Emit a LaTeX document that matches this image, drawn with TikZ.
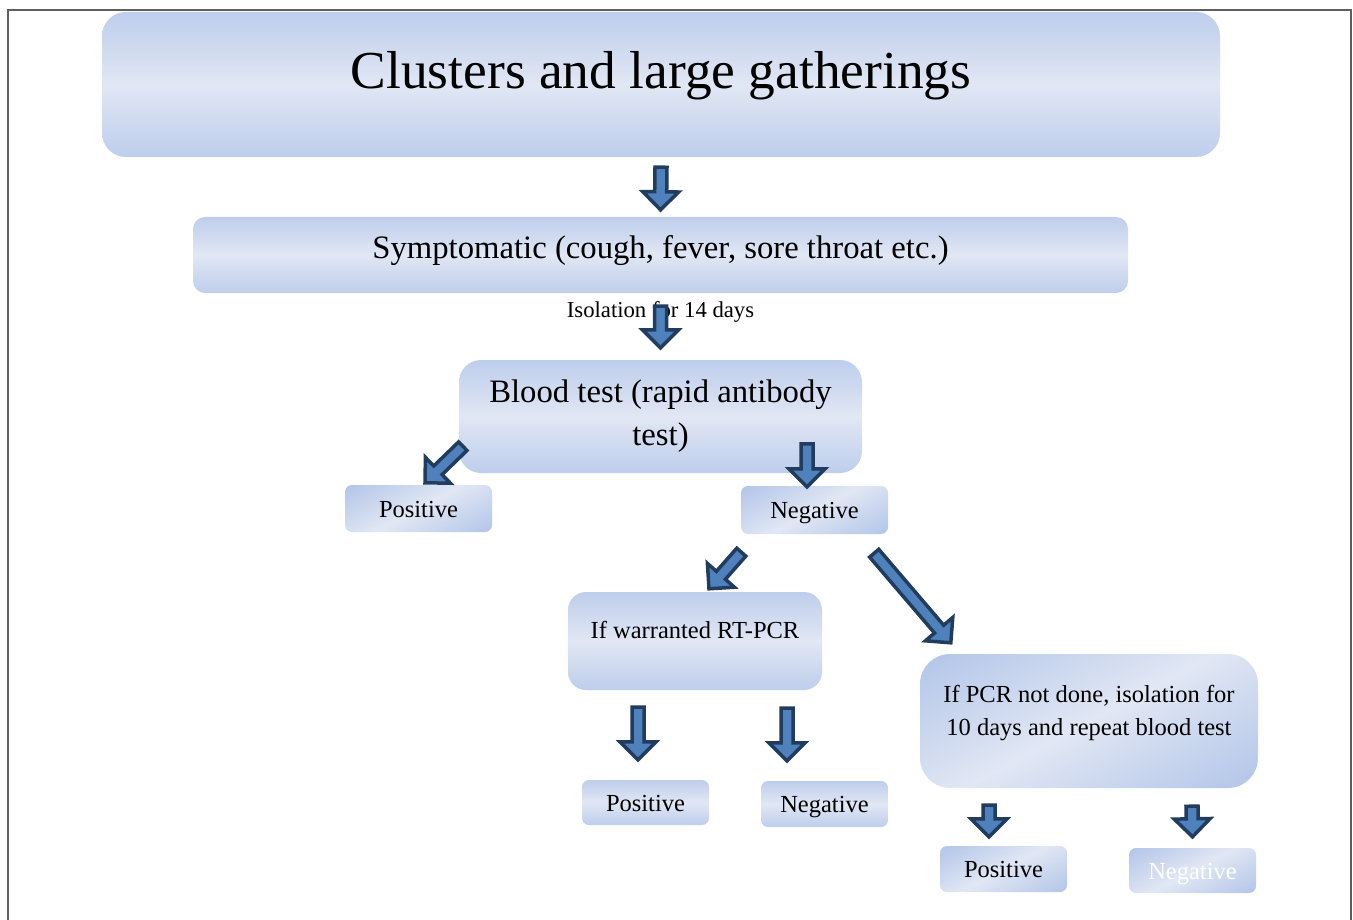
\documentclass[tikz,border=0pt]{standalone}
\usepackage{fontspec}
\setmainfont{Liberation Serif}
\usepackage{tikz}
\usetikzlibrary{calc,positioning}

\definecolor{bluedark}{RGB}{155,180,227}
\definecolor{bluelight}{RGB}{225,231,244}
\definecolor{arrowfill}{RGB}{79,129,189}
\definecolor{arrowline}{RGB}{34,60,94}
\definecolor{framegray}{RGB}{95,95,95}

\pgfdeclareverticalshading{glass}{100bp}{color(0bp)=(bluedark); color(50bp)=(bluelight); color(100bp)=(bluedark)}

\tikzset{
  box/.style={shade, shading=glass, rounded corners=#1, align=center, inner sep=0pt},
  box/.default=8pt,
  slant/.style={shading angle=28},
  small/.style={box=7pt, minimum width=127pt, minimum height=45pt,
    font=\fontsize{24.5}{30}\selectfont, text height=24pt, text depth=7pt},
  barrow/.style={fill=arrowfill, draw=arrowline, line width=3.5pt, line join=miter}
}

% block arrow from tail to tip
\newcommand\blockarrow[2]{%
  \coordinate (ba-t) at (#1);
  \coordinate (ba-h) at (#2);
  \coordinate (ba-n) at ($(ba-h)!18pt!(ba-t)$);
  \draw[barrow] ($(ba-t)!6pt!90:(ba-h)$) -- ($(ba-n)!6pt!-90:(ba-t)$)
    -- ($(ba-n)!18pt!-90:(ba-t)$) -- (ba-h) -- ($(ba-n)!18pt!90:(ba-t)$)
    -- ($(ba-n)!6pt!90:(ba-t)$) -- ($(ba-t)!6pt!-90:(ba-h)$) -- cycle;}

\begin{document}
\begin{tikzpicture}[x=1pt,y=-1pt]
\useasboundingbox (0,0) rectangle (1353,920);
\fill[white] (0,0) rectangle (1353,920);
\draw[framegray, line width=1.5pt] (8,920) -- (8,10) -- (1351,10) -- (1351,920);

\node[box=24pt, minimum width=1118pt, minimum height=145pt, font=\fontsize{53.4}{60}\selectfont,
  text height=36.5pt, text depth=27.5pt] (title) at (661,84.5) {Clusters and large gatherings};
\node[box=12pt, minimum width=935pt, minimum height=76pt, font=\fontsize{32.7}{40}\selectfont,
  text height=22.6pt, text depth=14.6pt] (symp) at (660.5,255) {Symptomatic (cough, fever, sore throat etc.)};
\node[anchor=base, font=\fontsize{22.7}{28}\selectfont] (iso) at ($(symp.south)+(0,24)$) {Isolation for 14 days};
\node[box=22pt, minimum width=403pt, minimum height=113pt,
  font=\fontsize{32.7}{43}\selectfont] (blood) at (660.5,416.5) {Blood test (rapid antibody\\test)};

\node[small, slant, minimum width=147pt, minimum height=47pt] (posA) at (418.5,508.5) {Positive};
\node[small, slant, minimum width=147pt, minimum height=48pt] (negA) at (814.5,510) {Negative};

\node[box=18pt, minimum width=254pt, minimum height=98pt, font=\fontsize{24.5}{30}\selectfont,
  text height=16.7pt, text depth=22.7pt] (rtpcr) at (695,641) {If warranted RT-PCR};
\node[box=30pt, slant, minimum width=338pt, minimum height=134pt,
  font=\fontsize{24.5}{33.5}\selectfont] (pcr) at (1089,721)
  {If PCR not done, isolation for\\10 days and repeat blood test\\[-12pt]};

\node[small] (posB) at (645.5,802.5) {Positive};
\node[small, minimum height=46pt] (negB) at (824.5,804) {Negative};
\node[small, slant, minimum height=46pt] (posC) at (1003.5,869) {Positive};
\node[small, slant, text=white] (negC) at (1192.5,870.5) {Negative};

\blockarrow{$(title.south)+(0,10)$}{$(symp.north)+(0,-7)$}
\blockarrow{$(symp.south)+(0,13)$}{$(blood.north)+(0,-12)$}
\blockarrow{$(blood.south west)+(4,-27)$}{$(posA.north)+(6.5,-2)$}
\blockarrow{$(negA.north)+(-7.5,-42)$}{$(negA.north)+(-7.5,1)$}
\blockarrow{$(negA.south west)+(0.5,18)$}{$(rtpcr.north)+(14,-3)$}
\blockarrow{$(negA.south east)+(-14,19)$}{$(pcr.north west)+(31,-11)$}
\blockarrow{$(rtpcr.south)+(-57,17)$}{$(posB.north)+(-7.5,-20)$}
\blockarrow{$(rtpcr.south)+(92,18)$}{$(negB.north)+(-37.5,-20)$}
\blockarrow{$(pcr.south)+(-100,17)$}{$(posC.north)+(-14.5,-9)$}
\blockarrow{$(pcr.south)+(103,18)$}{$(negC.north)+(0,-11)$}
\end{tikzpicture}
\end{document}
